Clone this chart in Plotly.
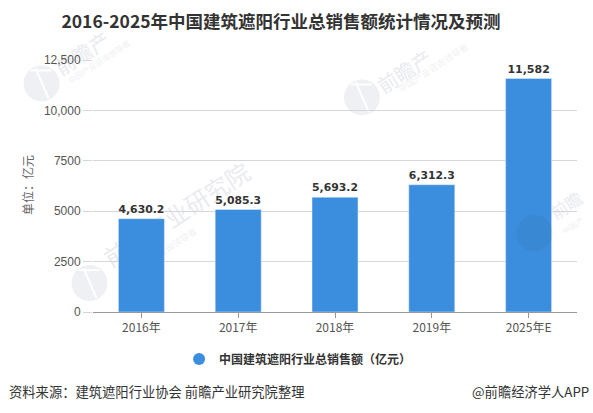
import plotly.graph_objects as go

categories = ["2016年", "2017年", "2018年", "2019年", "2025年E"]
values = [4630.2, 5085.3, 5693.2, 6312.3, 11582]
value_labels = ["4,630.2", "5,085.3", "5,693.2", "6,312.3", "11,582"]
y_ticks = [0, 2500, 5000, 7500, 10000, 12500]
y_tick_labels = ["0", "2500", "5000", "7500", "10,000", "12,500"]
series_name = "中国建筑遮阳行业总销售额（亿元）"
title = "2016-2025年中国建筑遮阳行业总销售额统计情况及预测"
source = "资料来源：建筑遮阳行业协会 前瞻产业研究院整理"
credit = "@前瞻经济学人APP"
unit = "单位：亿元"

CJK = "Noto Sans CJK SC"
BLUE = "#3b8ede"
W, H = 593, 413
L, R, T, B = 92.5, 577.5, 59.5, 312


def px(x):
    return (x - L) / (R - L)


def py(y):
    return (B - y) / (B - T)


fig = go.Figure()
fig.add_trace(go.Bar(
    x=categories, y=values, width=0.475, marker_color=BLUE, showlegend=False,
    text=value_labels, textposition="outside", cliponaxis=False,
    textfont=dict(family="DejaVu Sans", size=11, color="#333333", weight="bold"),
))
fig.add_trace(go.Scatter(
    x=[None], y=[None], mode="markers", name=series_name,
    marker=dict(symbol="circle", size=12, color=BLUE),
))

annotations = [
    dict(text=source, x=6, y=392, xanchor="left", font=dict(size=13.3, color="#333333")),
    dict(text=credit, x=592, y=392, xanchor="right", font=dict(size=13.3, color="#333333")),
    dict(text=unit, x=27, y=185, xanchor="center", textangle=-90, font=dict(size=12, color="#666666")),
]
for a in annotations:
    a.update(xref="paper", yref="paper", showarrow=False, yanchor="middle")
    a["x"] = px(a["x"])
    a["y"] = py(a["y"])

shapes = []


def logo(cx, cy, r=18, color="#eef0f4", layer="below", cut="white"):
    shapes.append(dict(type="circle", xref="paper", yref="paper", layer=layer,
                       x0=px(cx - r), x1=px(cx + r), y0=py(cy + r), y1=py(cy - r),
                       fillcolor=color, line_width=0))
    if cut:
        shapes.append(dict(type="line", xref="paper", yref="paper", layer=layer,
                           x0=px(cx - 6), x1=px(cx + 7), y0=py(cy - 15), y1=py(cy + 15),
                           line=dict(color=cut, width=2)))
        shapes.append(dict(type="line", xref="paper", yref="paper", layer=layer,
                           x0=px(cx - 11), x1=px(cx + 10), y0=py(cy - 13), y1=py(cy - 13),
                           line=dict(color=cut, width=2)))


def mark(cx, cy, text, size, angle=-33, color="#e9ebef"):
    shapes.append(dict(type="rect", xref="paper", yref="paper", layer="below",
                       x0=px(cx - 1), x1=px(cx + 1), y0=py(cy + 1), y1=py(cy - 1),
                       line_width=0, fillcolor="rgba(0,0,0,0)",
                       label=dict(text=text, textangle=angle, textposition="middle center",
                                  font=dict(family=CJK, size=size, color=color))))


logo(41, 83)
logo(89, 283)
logo(362, 97)
logo(535, 233, color="rgba(30,50,90,0.07)", layer="above", cut=None)
mark(83, 55, "前瞻产", 20)
mark(178, 217, "前瞻产业研究院", 24)
mark(406, 73, "前瞻产", 20)
mark(568, 207, "前瞻", 17)
mark(99, 62, "中国产业咨询领导者", 8, color="#f0f1f4")
mark(162, 253, "中国产业咨询领导者", 9, color="#f0f1f4")
mark(434, 68, "中国产业咨询领导者", 9, color="#f0f1f4")
mark(574, 226, "中国产", 8, color="#f0f1f4")

fig.update_layout(
    width=W, height=H, autosize=False,
    margin=dict(l=L, r=W - R, t=T, b=H - B),
    paper_bgcolor="white", plot_bgcolor="rgba(0,0,0,0)",
    font=dict(family=CJK, size=12, color="#555555"),
    title=dict(text=title, x=281 / W, xanchor="center", y=1 - 22 / H, yanchor="middle",
               font=dict(family=CJK, size=17.5, color="#333333", weight="bold")),
    showlegend=True,
    legend=dict(orientation="h", x=px(298), xanchor="center",
                y=py(359), yanchor="middle",
                font=dict(family=CJK, size=12, color="#333333", weight="bold")),
    annotations=annotations,
    shapes=shapes,
    bargap=0.525,
    xaxis=dict(showline=True, linecolor="#999999", linewidth=1, ticks="outside", ticklen=5,
               tickcolor="#999999", tickfont=dict(size=12, color="#555555")),
    yaxis=dict(range=[0, 12500], tickvals=y_ticks, ticktext=y_tick_labels, showline=False,
               gridcolor="#d4d6da", gridwidth=1, ticks="outside", ticklen=9, tickcolor="#d4d6da",
               tickfont=dict(family="Liberation Sans", size=12, color="#555555"), zeroline=False),
)
fig.write_html("out.html", config={"displayModeBar": False},
               post_script="document.body.style.margin='0';")
